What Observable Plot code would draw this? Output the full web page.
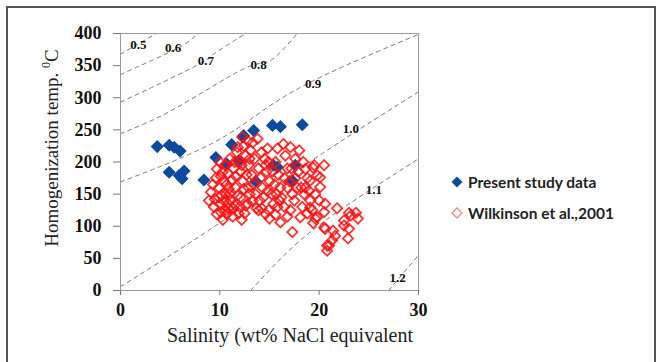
<!DOCTYPE html>
<html><head><meta charset="utf-8">
<script src="https://cdn.jsdelivr.net/npm/d3@7"></script>
<script src="https://cdn.jsdelivr.net/npm/@observablehq/plot@0.6"></script>
<style>
body{margin:0;background:#fff;}
#wrap{position:relative;width:661px;height:362px;overflow:hidden;background:#fff;}
#border{position:absolute;left:6px;top:6px;width:646px;height:400px;border:2px solid #555;pointer-events:none;}
#ytitle{position:absolute;left:51px;top:148px;transform:translate(-50%,-50%) rotate(-90deg);white-space:nowrap;font:19px "Liberation Serif",serif;color:#222;}
#xtitle{position:absolute;left:290px;top:335px;transform:translate(-50%,-50%);white-space:nowrap;font:20px "Liberation Serif",serif;color:#222;}
#legend{position:absolute;left:451px;top:166px;font:700 15.5px Lato,sans-serif;color:#222;}
#legend div{display:flex;align-items:center;height:31px;}
#legend svg{margin-right:5px;}
</style></head>
<body><div id="wrap"><div id="chart"></div>
<div id="ytitle">Homogenization temp. <sup style="font-size:12px">0</sup>C</div>
<div id="xtitle">Salinity (wt% NaCl equivalent</div>
<div id="legend"></div>
<div id="border"></div></div>
<script>
// ---- data ----
const xTicks = [0, 10, 20, 30];
const yTicks = [0, 50, 100, 150, 200, 250, 300, 350, 400];
const seriesNames = ["Present study data", "Wilkinson et al.,2001"];

// Present study: [salinity wt%, Th °C]
const presentStudy = [
  [3.7,224],[4.9,226],[5.4,223],[6.0,217],[4.9,184],[5.9,179],[6.4,186],[6.2,174],
  [8.4,172],[9.6,207],[11.2,227],[12.4,241],[13.4,249],[15.3,257],[16.1,255],[18.3,258],
  [10.7,197],[11.9,202],[13.6,170],[15.4,195],[17.6,195],[17.3,171],[12.3,239],[15.8,192]
];

// Wilkinson et al., 2001: [salinity wt%, Th °C]
const wilkinson = [
  [8.9,140],[9.1,153],[9.4,130],[9.7,189],[10.1,122],[10.6,125],[9.7,119],[10.7,119],
  [9.3,165],[9.6,175],[9.9,160],[10.2,148],[10.0,135],[10.4,170],[10.8,182],[10.5,195],
  [10.9,158],[11.1,140],[11.3,128],[10.3,110],[9.9,145],[10.6,150],[11.0,205],[11.4,190],
  [11.2,172],[11.6,160],[11.8,148],[11.5,133],[11.9,120],[10.1,178],[9.5,142],[10.8,135],
  [11.7,215],[12.0,200],[12.1,185],[12.3,170],[12.1,145],[12.4,158],[12.6,132],[12.8,135],
  [12.3,239],[12.8,233],[13.1,218],[11.8,223],[12.6,210],[12.9,195],[13.2,180],[13.4,165],
  [13.6,150],[13.8,236],[13.5,205],[13.9,190],[14.1,175],[14.3,160],[14.0,140],[14.6,119],
  [14.8,221],[14.5,205],[14.7,185],[15.0,170],[15.2,150],[15.4,135],[15.8,130],[15.8,221],
  [15.6,200],[15.9,180],[16.1,160],[16.4,228],[16.2,145],[16.1,106],[16.6,210],[16.8,190],
  [17.1,223],[17.0,170],[17.1,125],[17.3,91],[17.3,150],[17.5,140],[17.6,205],[18.0,218],
  [17.9,185],[18.1,114],[18.3,130],[18.2,160],[18.6,189],[18.5,150],[19.1,171],[19.1,140],
  [19.5,195],[19.3,125],[19.8,179],[19.8,114],[20.1,161],[20.5,195],[20.6,135],[20.5,122],
  [20.5,98],[20.8,70],[20.8,62],[21.3,78],[21.4,93],[21.8,128],[22.5,109],[23.0,121],
  [23.7,121],[23.0,96],[22.9,81],[20.6,96],[19.4,191],[20.1,176],[18.6,160],[19.1,129],
  [19.6,112],[14.2,128],[15.0,112],[14.9,125],[10.0,200],[10.3,185],[10.7,165],[11.0,150],
  [11.3,115],[12.0,130],[12.5,120],[11.6,178],[12.2,195],[12.7,180],[13.0,150],[13.3,140],
  [13.7,128],[13.0,205],[12.4,225],[13.3,230],[14.2,215],[14.6,195],[14.9,200],[15.3,185],
  [15.5,165],[15.7,150],[16.0,140],[16.5,175],[16.8,160],[16.5,130],[17.2,190],[17.6,175],
  [17.8,160],[18.4,200],[18.8,175],[19.0,155],[19.6,150],[20.0,140],[19.4,105],[18.8,120],
  [16.8,115],[15.6,118],[14.4,145],[14.8,155],[13.9,125],[23.2,117],[23.9,112],[22.5,101],
  [21.0,70],[21.6,85],[10.4,140],[10.9,128],[11.5,200],[12.9,160],[12.2,110]
];

// Iso-density curves (g/cm3): points [salinity, Th]
const isoNames = ["0.5","0.6","0.7","0.8","0.9","1.0","1.1","1.2"];
const isoPoints = [
  [[0,368],[1.8,384],[3.6,400]],
  [[0,336],[3,357],[6.2,381],[7.8,400]],
  [[0,293],[7.4,348],[9.4,368],[12.6,400]],
  [[0,244],[5.7,285],[12.4,345],[15.1,358],[17.8,400]],
  [[0,169],[9.1,228],[14.8,285],[20.8,337],[30.2,400]],
  [[0,6],[9.1,96],[20.5,215],[30.2,311]],
  [[13.1,0],[18.1,78],[24,145],[30,205]],
  [[27,0],[30,55]]
];
// label anchor positions [salinity, Th]
const isoLabelPos = [[1.8,383],[5.3,377],[8.6,358],[13.9,352],[19.4,321],[23.2,251],[25.5,157],[27.9,20]];

// ---- build tables ----
const presentRows = presentStudy.map(([s, t]) => ({s, t}));
const wilkRows = wilkinson.map(([s, t]) => ({s, t}));
const isoRows = isoPoints.flatMap((pts, i) => pts.map(([s, t]) => ({s, t, k: isoNames[i]})));
const isoLabels = isoLabelPos.map(([s, t], i) => ({s, t, k: isoNames[i]}));

const blue = "#0b4a9c", red = "#ff1010";

const chart = Plot.plot({
  width: 661, height: 362,
  marginLeft: 120, marginRight: 243, marginTop: 33, marginBottom: 72,
  style: {fontFamily: "'Liberation Serif', serif", background: "transparent", color: "#111"},
  x: {domain: [0, 30]},
  y: {domain: [0, 400]},
  marks: [
    Plot.line(isoRows, {x: "s", y: "t", z: "k", stroke: "#7a7a7a", strokeWidth: 1, strokeDasharray: "4,4", curve: "natural", clip: true}),
    Plot.text(isoLabels, {x: "s", y: "t", text: "k", fontSize: 13, fontWeight: "bold", fill: "#111"}),
    Plot.dot(presentRows, {x: "s", y: "t", symbol: "diamond2", r: 5.9, fill: blue, stroke: "none"}),
    Plot.dot(wilkRows, {x: "s", y: "t", symbol: "diamond2", r: 4.6, fill: "none", stroke: red, strokeWidth: 1.8, strokeOpacity: 0.85}),
    Plot.frame({stroke: "#9a9a9a"}),
    Plot.axisY({ticks: yTicks, tickSize: 7, tickPadding: 12, fontSize: 18, fontWeight: "bold", label: null, stroke: "#777"}),
    Plot.axisX({ticks: xTicks, tickSize: 5, tickPadding: 8, fontSize: 18, fontWeight: "bold", label: null, stroke: "#777"})
  ]
});
document.getElementById("chart").appendChild(chart);

// legend
const leg = document.getElementById("legend");
seriesNames.forEach((name, i) => {
  const row = document.createElement("div");
  const sw = i === 0
    ? `<svg width="12" height="12"><path d="M6,0.5L11.5,6L6,11.5L0.5,6Z" fill="${blue}"/></svg>`
    : `<svg width="12" height="12"><path d="M6,1L11,6L6,11L1,6Z" fill="none" stroke="#f08a8a" stroke-width="1.4"/></svg>`;
  row.innerHTML = sw + `<span>${name}</span>`;
  leg.appendChild(row);
});
</script></body></html>
